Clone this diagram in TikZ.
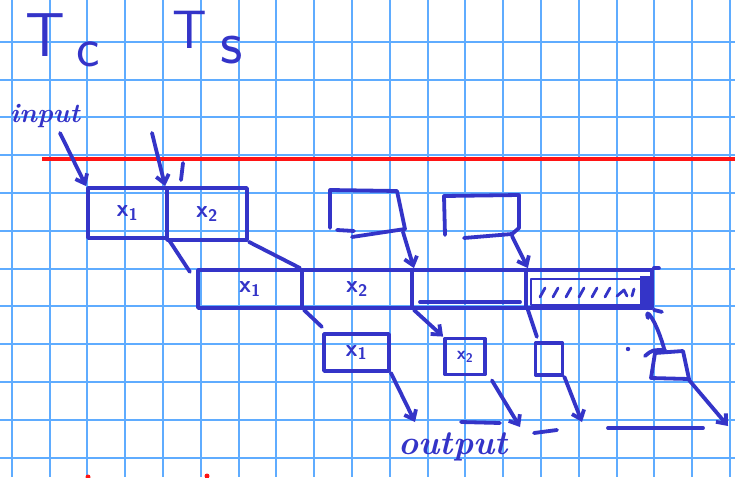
\documentclass[tikz,border=0pt]{standalone}
\usetikzlibrary{arrows.meta}
\definecolor{ink}{RGB}{52,52,200}
\definecolor{gridblue}{RGB}{95,172,255}
\definecolor{redpen}{RGB}{255,20,20}
\tikzset{
  pen/.style={draw=ink, line width=3.8pt, line cap=round, line join=round},
  finepen/.style={draw=ink, line width=2.8pt, line cap=round, line join=round},
  tip/.style={-{Straight Barb[length=8pt,width=13pt]}},
  cellbox/.style={pen, rectangle, inner sep=0pt, text=ink, font=\sffamily\bfseries\fontsize{24}{24}\selectfont},
  scrawl/.style={text=ink, inner sep=0pt},
}
\newcommand{\slotx}[1]{x\textsubscript{#1}}
\begin{document}
\begin{tikzpicture}[x=1pt,y=-1pt]
  % page and squared paper
  \useasboundingbox (0,0) rectangle (735,477);
  \fill[white] (0,0) rectangle (735,477);
  \foreach \k in {0,...,19} \draw[gridblue, line width=2pt] (11.7+37.8*\k,0) -- (11.7+37.8*\k,477);
  \foreach \k in {1,...,12} \draw[gridblue, line width=2pt] (0,3.9+37.8*\k) -- (735,3.9+37.8*\k);

  % red rule and marks
  \draw[redpen, line width=4pt] (42,159) -- (735,159);
  \fill[redpen] (88,477) circle (2.5pt) (207,476) circle (2.5pt);

  % headings
  \node[scrawl, font=\sffamily\fontsize{62}{62}\selectfont] (tc) at (45,35) {T};
  \node[scrawl, font=\sffamily\fontsize{56}{56}\selectfont] (tcsub) at (88,54) {c};
  \node[scrawl, font=\sffamily\fontsize{54}{54}\selectfont] (ts) at (190,30) {T};
  \node[scrawl, font=\sffamily\fontsize{62}{62}\selectfont] (tssub) at (232,50) {s};

  % input side
  \node[scrawl, font=\bfseries\itshape\fontsize{27}{27}\selectfont] (inp) at (45,116) {input};
  \coordinate (inpfrom) at (60,133);
  \coordinate (tsfrom) at (152,133);

  % first row
  \node[cellbox, minimum width=79pt, minimum height=50pt] (a1) at (127.5,213) {\slotx{1}};
  \node[cellbox, minimum width=80pt, minimum height=52pt] (a2) at (207,214) {\slotx{2}};
  \draw[pen, tip] (inpfrom) -- (a1.north west);
  \draw[pen, tip] (tsfrom) -- (a2.north west);
  \draw[pen] (183,163) -- (181,180);

  % empty slots waiting above the bar
  \draw[pen] (330,228) -- (330,190) -- (397,191) -- (405,229) -- (352,237);
  \draw[pen] (337,230) -- (354,231);
  \draw[pen] (445,235) -- (444,196) -- (519,195) -- (519,228) -- (512,234) -- (464,238);
  \coordinate (e1) at (403,232);
  \coordinate (e2) at (512,236);

  % long bar of the second row
  \node[cellbox, minimum width=104pt, minimum height=38pt] (c1) at (250,289) {\slotx{1}};
  \node[cellbox, minimum width=110pt, minimum height=38pt] (c2) at (357,289) {\slotx{2}};
  \node[cellbox, minimum width=114pt, minimum height=38pt] (c3) at (469,289) {};
  \node[cellbox, minimum width=126pt, minimum height=38pt] (c4) at (589,289) {};
  \draw[pen] (c4.north east) -- ++(5,0);
  \draw[pen] (c4.south east) -- ++(8,2);
  \draw[pen] (420,302) -- (520,302);
  \draw[finepen] (531,279) rectangle (643,305);
  \fill[ink] (640,276) rectangle (654,306);
  \foreach \h in {540,553,566,579,592,605} \draw[finepen] (\h,297) -- (\h+5,288);
  \draw[finepen] (617,296) -- (624,290) -- (627,296);
  \draw[finepen] (632,296) -- (634,289);

  % links from the first row down to the bar
  \draw[pen] (a1.south east) -- ++(21,32);
  \draw[pen] (a2.south east) -- (c2.north west);
  \draw[pen, tip] (e1) -- (c2.north east);
  \draw[pen, tip] (e2) -- (c3.north east);

  % third row
  \node[cellbox, minimum width=65pt, minimum height=37pt] (b1) at (356.5,352.5) {\slotx{1}};
  \node[cellbox, minimum width=40pt, minimum height=36pt, font=\sffamily\bfseries\fontsize{18}{18}\selectfont] (b2) at (465,356.5) {\slotx{2}};
  \node[cellbox, minimum width=27pt, minimum height=32pt] (b3) at (549,359) {};
  \draw[pen] (655,353) -- (683,351) -- (689,379) -- (651,378) -- cycle;
  \coordinate (b4top) at (665,352);
  \coordinate (b4se) at (689,380);
  \draw[pen] (645,356) .. controls (652,350) .. (665,350);
  \fill[ink] (628,349) circle (2.2pt);

  % links from the bar to the third row
  \draw[pen] (c1.south east) -- ++(18,17);
  \draw[pen, tip] (c2.south east) -- (b2.north west);
  \draw[pen] (c3.south east) -- ++(9,27);
  \draw[pen] (648,318) .. controls (644,306) and (656,318) .. (b4top);

  % outputs
  \draw[pen, tip] (b1.south east) -- (415,422);
  \draw[pen, tip] (b2.south east) ++(5,4) -- (520,427);
  \draw[pen, tip] (b3.south east) -- (582,422);
  \draw[pen, tip] (b4se) -- (728,426);
  \draw[pen] (461,422) -- (500,423);
  \draw[pen] (534,433) -- (557,430);
  \draw[pen] (608,428) -- (703,428);
  \node[scrawl, font=\bfseries\itshape\fontsize{34}{34}\selectfont] (outp) at (453,447) {output};
\end{tikzpicture}
\end{document}
